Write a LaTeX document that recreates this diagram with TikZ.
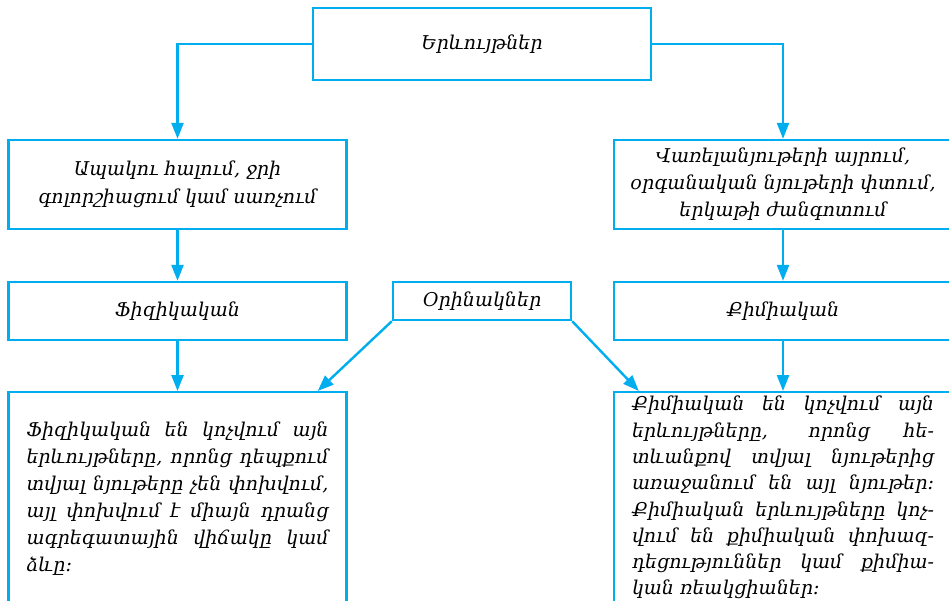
\documentclass[tikz,border=0pt]{standalone}
\usepackage{fontspec}
\setmainfont{DejaVu Serif}
\usetikzlibrary{positioning}
\usetikzlibrary{arrows.meta}
\definecolor{boxblue}{RGB}{0,174,239}

\begin{document}
\begin{tikzpicture}[x=1pt,y=-1pt,
        box/.style={draw=boxblue,line width=2.4pt,align=center,inner sep=0pt,
            font=\itshape\fontsize{19}{27}\selectfont},
        arr/.style={draw=boxblue,line width=2.4pt,-{Triangle[length=16pt,width=12pt]}}]
        \clip (0,0) rectangle (949,600);
        %\node at (482,44) {top};
        \node[box,minimum width=338,minimum height=72] (phen) at (482,44) {Երևույթներ};

        \node[box,minimum width=338,minimum height=89] (glass) at (177.5,184.5)
            {Ապակու հալում, ջրի\\[1pt]գոլորշիացում կամ սառչում};
        \node[box,minimum width=338,minimum height=89] (fuel) at (783,184.5)
            {Վառելանյութերի այրում,\\օրգանական նյութերի փտում,\\երկաթի ժանգոտում};

        \node[box,minimum width=338,minimum height=58] (phys) at (177.5,311) {Ֆիզիկական};
        \node[box,minimum width=178,minimum height=38] (ex) at (482,301) {Օրինակներ};
        \node[box,minimum width=338,minimum height=58] (chem) at (783,311) {Քիմիական};

        \node[box,anchor=north,text width=302pt,align=justify,inner xsep=18pt,inner ysep=30pt]
            (physdef) at (177.5,391)
            {Ֆիզիկական են կոչվում այն\linebreak երևույթները, որոնց դեպքում\linebreak
             տվյալ նյութերը չեն փոխվում,\linebreak այլ փոխվում է միայն դրանց\linebreak
             ագրեգատային վիճակը կամ\linebreak ձևը։\rule[-30pt]{0pt}{0pt}};
        \node[box,anchor=north,text width=302pt,align=justify,inner xsep=18pt,inner ysep=4pt,
            font=\itshape\fontsize{19}{26.3}\selectfont]
            (chemdef) at (783,391)
            {Քիմիական են կոչվում այն\linebreak երևույթները, որոնց հե-\linebreak
             տևանքով տվյալ նյութերից\linebreak առաջանում են այլ նյութեր։\linebreak
             Քիմիական երևույթները կոչ-\linebreak վում են քիմիական փոխազ-\linebreak
             դեցություններ կամ քիմիա-\linebreak կան ռեակցիաներ։\rule[-30pt]{0pt}{0pt}};

        \draw[arr] (phen.west) -| (glass.north);
        \draw[arr] (phen.east) -| (fuel.north);
        \draw[arr] (glass.south) -- (phys.north);
        \draw[arr] (fuel.south) -- (chem.north);
        \draw[arr] (phys.south) -- (physdef.north);
        \draw[arr] (chem.south) -- (chemdef.north);
        \draw[arr] (ex.south west) -- ([xshift=-30pt]physdef.north east);
        \draw[arr] (ex.south east) -- ([xshift=26pt]chemdef.north west);
\end{tikzpicture}
\end{document}
